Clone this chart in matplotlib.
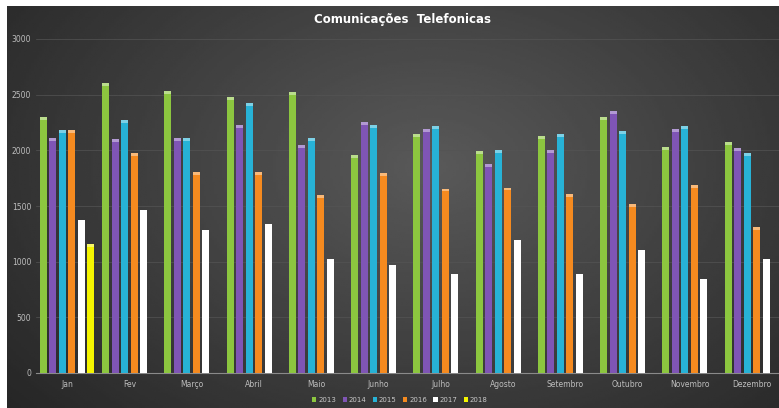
import numpy as np
import matplotlib.pyplot as plt
import matplotlib.colors as mcolors

# monthly phone communications, one list per year
months = ['Jan', 'Fev', 'Março', 'Abril', 'Maio', 'Junho', 'Julho', 'Agosto',
          'Setembro', 'Outubro', 'Novembro', 'Dezembro']
years = ['2013', '2014', '2015', '2016', '2017', '2018']
v2013 = [2300, 2605, 2534, 2480, 2525, 1959, 2147, 1995, 2129, 2300, 2031, 2076]
v2014 = [2111, 2102, 2111, 2228, 2048, 2255, 2192, 1878, 2004, 2354, 2192, 2022]
v2015 = [2183, 2273, 2111, 2426, 2111, 2228, 2219, 2004, 2147, 2174, 2219, 1977]
v2016 = [2183, 1977, 1806, 1806, 1600, 1797, 1657, 1665, 1610, 1518, 1686, 1312]
v2017 = [1375, 1464, 1285, 1339, 1024, 970, 889, 1195, 889, 1105, 845, 1024]
v2018 = [1159]
colors = ['#8cc63f', '#7f55b5', '#27b2d6', '#f58a1f', '#ffffff', '#f5f500']

W, H = 779, 408
fig = plt.figure(figsize=(W / 100, H / 100), dpi=100, facecolor='white')

# dark gradient background (chart area starts a few px in from top/left)
bg = fig.add_axes([7 / W, 0, 1 - 7 / W, 1 - 6 / H])
gx, gy = np.meshgrid(np.linspace(0, 1, 300), np.linspace(0, 1, 200))
r = np.sqrt(((gx - 0.55) / 1.0) ** 2 + ((gy - 0.4) / 1.3) ** 2)
bg.imshow(0.35 - 0.28 * r, cmap='gray', vmin=0, vmax=1, aspect='auto',
          extent=[0, 1, 0, 1], origin='upper')
bg.axis('off')

ax = fig.add_axes([36 / W, 1 - 373 / H, 747 / W, (373 - 39) / H])
ax.patch.set_alpha(0)

series = [v2013, v2014, v2015, v2016, v2017, v2018]
step = 0.152
bw = 0.112
cap = 25  # small lighter bevel at the top of each bar
for i, (vals, c, lab) in enumerate(zip(series, colors, years)):
    x = np.arange(len(vals)) + (i - 2.5) * step
    vals = np.array(vals)
    ax.bar(x, vals, width=bw, color=c, label=lab, zorder=3)
    light = mcolors.to_rgb(c)
    light = [min(1, v * 0.6 + 0.4) for v in light]
    ax.bar(x, cap, bottom=vals - cap, width=bw, color=light, zorder=4)

ax.set_xlim(-0.5, 11.5)
ax.set_ylim(0, 3000)
ax.set_yticks(range(0, 3001, 500))
ax.set_xticks(range(12))
ax.set_xticklabels(months)
ax.tick_params(axis='both', length=0, labelsize=5.5, colors='#bdbdbd')
ax.tick_params(axis='x', pad=5)
ax.grid(axis='y', color='#545454', linewidth=0.5, zorder=0)
for s in ['top', 'right', 'left']:
    ax.spines[s].set_visible(False)
ax.spines['bottom'].set_color('#8a8a8a')
ax.spines['bottom'].set_linewidth(0.8)

fig.text(403 / W, 1 - 20 / H, 'Comunicações  Telefonicas', ha='center', va='center',
         color='white', fontsize=8.5, fontweight='bold')

fig.legend(loc='center', bbox_to_anchor=(400 / W, 1 - 400 / H), ncol=6,
           frameon=False, fontsize=5, labelcolor='#c8c8c8', handlelength=0.6,
           handleheight=0.6, handletextpad=0.3, columnspacing=0.9)

fig.savefig('out.png', dpi=100, facecolor='white')
